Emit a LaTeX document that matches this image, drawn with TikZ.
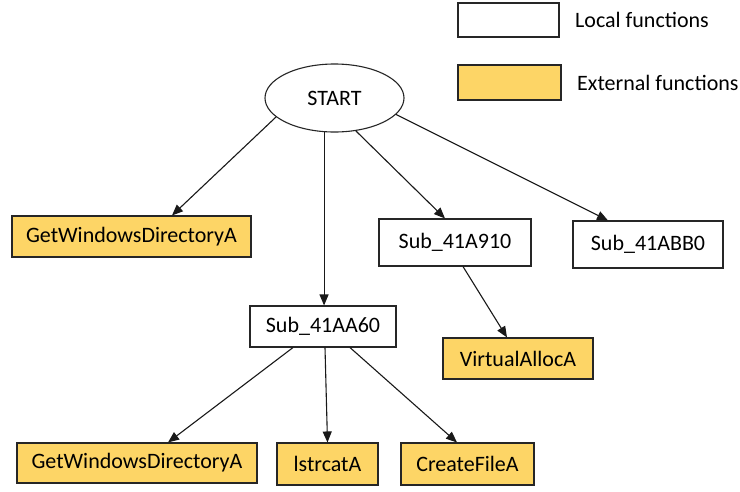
\documentclass[tikz,border=0pt]{standalone}
\usepackage{fontspec}
\setmainfont{Carlito}
\usetikzlibrary{arrows.meta,shapes.geometric,calc}
\definecolor{ext}{RGB}{253,213,102}
\tikzset{
  box/.style={draw=black!85,line width=1.1pt,inner sep=0pt,font=\fontsize{22}{24}\selectfont},
  loc/.style={box,fill=white},
  extf/.style={box,fill=ext},
  arr/.style={-{Triangle[length=11pt,width=9pt]},line width=1.1pt,black!90},
  lbl/.style={anchor=west,inner sep=0pt,font=\fontsize{22}{24}\selectfont}
}
\begin{document}
\begin{tikzpicture}[x=1pt,y=-1pt]
\useasboundingbox[fill=white] (0,0) rectangle (740,491);
% legend
\node[loc,minimum width=101pt,minimum height=34pt] (lgl) at (508.5,20) {};
\node[lbl] (lgltext) at (575,20) {Local functions};
\node[extf,minimum width=103pt,minimum height=35pt] (lge) at (509.5,82.5) {};
\node[lbl] (lgetext) at (577,83) {External functions};
% nodes
\node[ellipse,draw=black!85,line width=1.1pt,fill=white,minimum width=139pt,minimum height=68pt,inner sep=0pt,font=\fontsize{22}{24}\selectfont] (start) at (334.5,98) {START};
\node[extf,minimum width=239pt,minimum height=41pt] (gwd1) at (131.5,236.5) {GetWindowsDirectoryA};
\node[loc,minimum width=152pt,minimum height=47pt] (a910) at (455,242.5) {Sub\_41A910};
\node[loc,minimum width=150pt,minimum height=47pt] (abb0) at (648,244.5) {Sub\_41ABB0};
\node[loc,minimum width=146pt,minimum height=41pt] (a60) at (323,326.5) {Sub\_41AA60};
\node[extf,minimum width=150pt,minimum height=41pt] (valloc) at (518,358.5) {VirtualAllocA};
\node[extf,minimum width=240pt,minimum height=40pt] (gwd2) at (137,463) {GetWindowsDirectoryA};
\node[extf,minimum width=101pt,minimum height=42pt] (lstrcat) at (327.5,464) {lstrcatA};
\node[extf,minimum width=133pt,minimum height=42pt] (create) at (467.5,464) {CreateFileA};
% arrows
\draw[arr] (start.198) -- ($(gwd1.north)+(40.5,0)$);
\draw[arr] (start.-107) -- (start.-107 |- a60.north);
\draw[arr] (start.-57) -- ($(a910.north)+(-10,0)$);
\draw[arr] (start.-15) -- ($(abb0.north)+(-40,0)$);
\draw[arr] ($(a910.south)+(8,0)$) -- ($(valloc.north)+(-11,0)$);
\draw[arr] ($(a60.south)+(-30,0)$) -- ($(gwd2.north)+(31,0)$);
\draw[arr] ($(a60.south)+(2,0)$) -- (lstrcat.north);
\draw[arr] ($(a60.south)+(27,0)$) -- ($(create.north)+(-10.5,0)$);
\end{tikzpicture}
\end{document}
